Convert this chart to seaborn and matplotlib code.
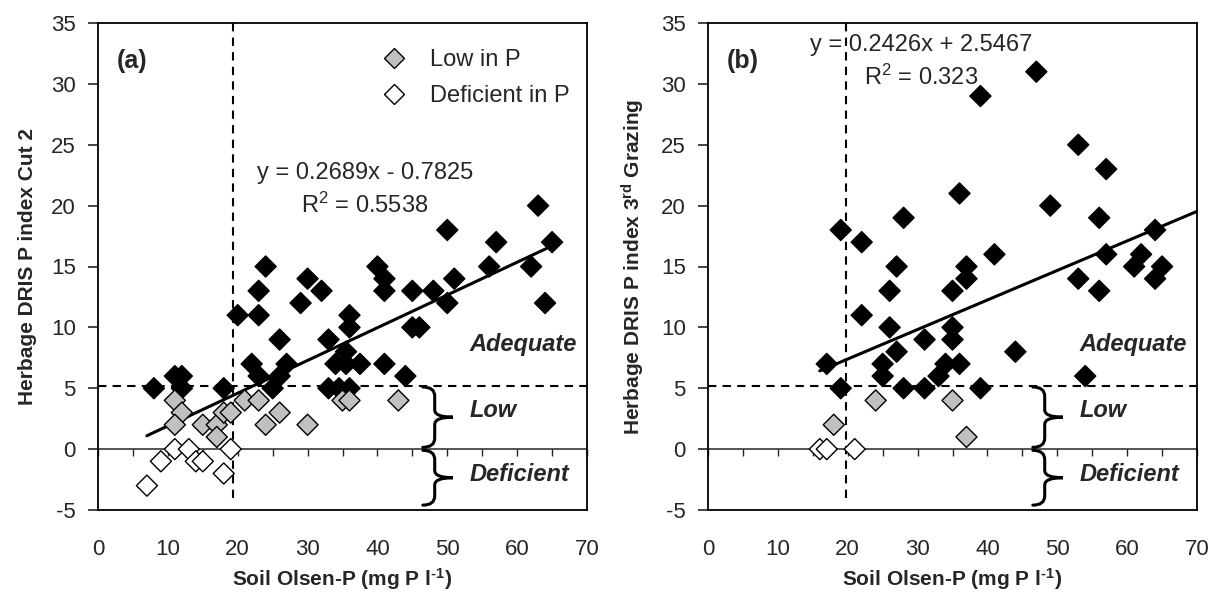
import numpy as np
import pandas as pd
import matplotlib
matplotlib.use("Agg")
import matplotlib.pyplot as plt
import seaborn as sns
from matplotlib.path import Path
from matplotlib.patches import PathPatch
from matplotlib.lines import Line2D

sns.set_style("white")
plt.rcParams["font.family"] = ["Liberation Sans", "DejaVu Sans"]
plt.rcParams["mathtext.fontset"] = "custom"
plt.rcParams["mathtext.rm"] = "Liberation Sans"
plt.rcParams["mathtext.bf"] = "Liberation Sans:bold"
plt.rcParams["mathtext.it"] = "Liberation Sans:italic"
plt.rcParams["axes.unicode_minus"] = False

# ---------------- data: panel (a) Cut 2 ----------------
a_adequate_x = [8, 11, 12, 12, 18, 20, 22, 23, 23, 23, 24, 25, 26, 26, 27, 29, 30, 32, 33, 33,
                34, 35.5, 35.5, 37.5, 41, 34.5, 36, 36, 36, 40, 41, 41, 44, 45, 45, 46, 48, 50,
                50, 51, 56, 57, 62, 63, 64, 65]
a_adequate_y = [5, 6, 6, 5, 5, 11, 7, 6, 11, 13, 15, 5, 6, 9, 7, 12, 14, 13, 9, 5,
                7, 8, 7, 7, 7, 5, 5, 11, 10, 15, 14, 13, 6, 13, 10, 10, 13, 18,
                12, 14, 15, 17, 15, 20, 12, 17]
a_low_x = [11, 12, 11, 15, 17, 17, 18, 19, 21, 23, 24, 26, 30, 35, 36, 43]
a_low_y = [4, 3, 2, 2, 2, 1, 3, 3, 4, 4, 2, 3, 2, 4, 4, 4]
a_def_x = [7, 9, 11, 13, 14, 15, 18, 19]
a_def_y = [-3, -1, 0, 0, -1, -1, -2, 0]
a_slope, a_intercept = 0.2689, -0.7825
a_eq = "y = 0.2689x - 0.7825"
a_r2 = r"R$^2$ = 0.5538"

# ---------------- data: panel (b) 3rd grazing ----------------
b_adequate_x = [17, 19, 19, 22, 22, 25, 25, 26, 26, 27, 27, 28, 28, 31, 31, 33, 34, 35, 35, 35,
                36, 36, 37, 37, 39, 39, 41, 44, 47, 49, 53, 53, 54, 56, 56, 57, 57, 61, 62,
                64, 64, 65]
b_adequate_y = [7, 5, 18, 17, 11, 7, 6, 13, 10, 15, 8, 19, 5, 9, 5, 6, 7, 13, 10, 9,
                21, 7, 15, 14, 29, 5, 16, 8, 31, 20, 25, 14, 6, 19, 13, 23, 16, 15, 16,
                18, 14, 15]
b_low_x = [18, 24, 35, 37]
b_low_y = [2, 4, 4, 1]
b_def_x = [16, 17, 21]
b_def_y = [0, 0, 0]
b_slope, b_intercept = 0.2426, 2.5467
b_line_end = 70
b_eq = "y = 0.2426x + 2.5467"
b_r2 = r"R$^2$ = 0.323"

x_ticks = [0, 10, 20, 30, 40, 50, 60, 70]
y_ticks = [-5, 0, 5, 10, 15, 20, 25, 30, 35]
status_order = ["Adequate", "Low", "Deficient"]
palette = {"Adequate": "black", "Low": "#c0c0c0", "Deficient": "white"}
legend_labels = ["Low in P", "Deficient in P"]
x_label = "Soil Olsen-P (mg P l$^{\\mathbf{\u20101}}$)"


def make_df(ax_, ay_, lx, ly, dx, dy):
    parts = []
    for name, xs, ys in zip(status_order, [ax_, lx, dx], [ay_, ly, dy]):
        parts.append(pd.DataFrame({"x": xs, "y": ys, "status": name}))
    return pd.concat(parts, ignore_index=True)


def brace(ax, x_left, x_stem, x_tip, y_top, y_bot, hook=0.75, tipc=0.6):
    ym = (y_top + y_bot) / 2
    verts = [(x_left, y_top), (x_stem, y_top), (x_stem, y_top - hook),
             (x_stem, ym + tipc), (x_stem, ym), (x_tip, ym),
             (x_stem, ym), (x_stem, ym - tipc),
             (x_stem, y_bot + hook), (x_stem, y_bot), (x_left, y_bot)]
    codes = [Path.MOVETO, Path.CURVE3, Path.CURVE3, Path.LINETO, Path.CURVE3, Path.CURVE3,
             Path.CURVE3, Path.CURVE3, Path.LINETO, Path.CURVE3, Path.CURVE3]
    ax.add_patch(PathPatch(Path(verts, codes), fill=False, lw=2.2, color="black",
                           capstyle="round", zorder=4))


W, H = 1209, 603
fig = plt.figure(figsize=(W / 100, H / 100), dpi=100)
ax_a = fig.add_axes([98 / W, (H - 510) / H, 489 / W, 487 / H])
ax_b = fig.add_axes([708 / W, (H - 510) / H, 489 / W, 487 / H])

panels = [
    (ax_a, make_df(a_adequate_x, a_adequate_y, a_low_x, a_low_y, a_def_x, a_def_y),
     a_slope, a_intercept, None, a_eq, a_r2, (38.2, 22.7, 20.0), "(a)",
     "Herbage DRIS P index Cut 2", 19.3),
    (ax_b, make_df(b_adequate_x, b_adequate_y, b_low_x, b_low_y, b_def_x, b_def_y),
     b_slope, b_intercept, b_line_end, b_eq, b_r2, (30.5, 33.2, 30.5), "(b)",
     r"Herbage DRIS P index 3$^{\mathbf{rd}}$ Grazing", 19.8),
]

for ax, df, slope, icpt, xend, eq, r2, eqpos, tag, ylab, vx in panels:
    ax.set_xlim(0, 70)
    ax.set_ylim(-5, 35)
    # reference lines
    ax.axhline(5.15, color="black", lw=1.5, ls=(0, (4, 3)), zorder=1)
    ax.vlines(vx, -4.0, 35, color="black", lw=1.5, ls=(0, (4, 3)), zorder=1)
    # trend line
    x0 = df["x"].min()
    x1 = df["x"].max() if xend is None else xend
    xl = np.array([x0, x1])
    sns.lineplot(x=xl, y=slope * xl + icpt, ax=ax, color="black", lw=2.2, zorder=2)
    # points
    sns.scatterplot(data=df, x="x", y="y", hue="status", palette=palette, hue_order=status_order,
                    marker="D", s=115, edgecolor="black", linewidth=1.0, legend=False,
                    ax=ax, zorder=3)
    # x axis through y = 0 with ticks
    sec = ax.secondary_xaxis(0.125)
    sec.set_xticks(np.arange(0, 71, 5))
    sec.tick_params(axis="x", direction="out", length=5, width=1, labelbottom=False)
    sec.spines["bottom"].set_linewidth(1.1)

    ax.set_xticks(x_ticks)
    ax.set_yticks(y_ticks)
    ax.tick_params(axis="x", length=0, pad=21, labelsize=16)
    ax.tick_params(axis="y", left=True, direction="out", length=7, width=1.2, pad=9, labelsize=16)
    for s in ax.spines.values():
        s.set_linewidth(1.3)
        s.set_color("black")
    ax.set_xlabel(x_label, fontsize=15, fontweight="bold", labelpad=4)
    ax.set_ylabel(ylab, fontsize=15, fontweight="bold", labelpad=10)

    ax.text(eqpos[0], eqpos[1], eq, ha="center", va="center", fontsize=17)
    ax.text(eqpos[0], eqpos[2], r2, ha="center", va="center", fontsize=17)
    ax.text(2.7, 31.9, tag, ha="left", va="center", fontsize=18, fontweight="bold")

    # categories
    ax.text(53.2, 8.6, "Adequate", fontsize=17, fontweight="bold", fontstyle="italic", va="center")
    ax.text(53.2, 3.2, "Low", fontsize=17, fontweight="bold", fontstyle="italic", va="center")
    ax.text(53.2, -2.1, "Deficient", fontsize=17, fontweight="bold", fontstyle="italic", va="center")
    brace(ax, 46.5, 48.2, 50.8, 5.1, 0.15)
    brace(ax, 46.5, 48.2, 50.8, -0.1, -4.6)

handles = [Line2D([], [], ls="none", marker="D", markersize=10.5, markerfacecolor=palette[k],
                  markeredgecolor="black", markeredgewidth=1.0) for k in ["Low", "Deficient"]]
ax_a.legend(handles, legend_labels, loc="upper left", bbox_to_anchor=(0.582, 0.946),
            frameon=False, fontsize=17, handlelength=1.0, handletextpad=1.0,
            labelspacing=0.6, borderpad=0, borderaxespad=0)

fig.savefig("out.png", dpi=100)
